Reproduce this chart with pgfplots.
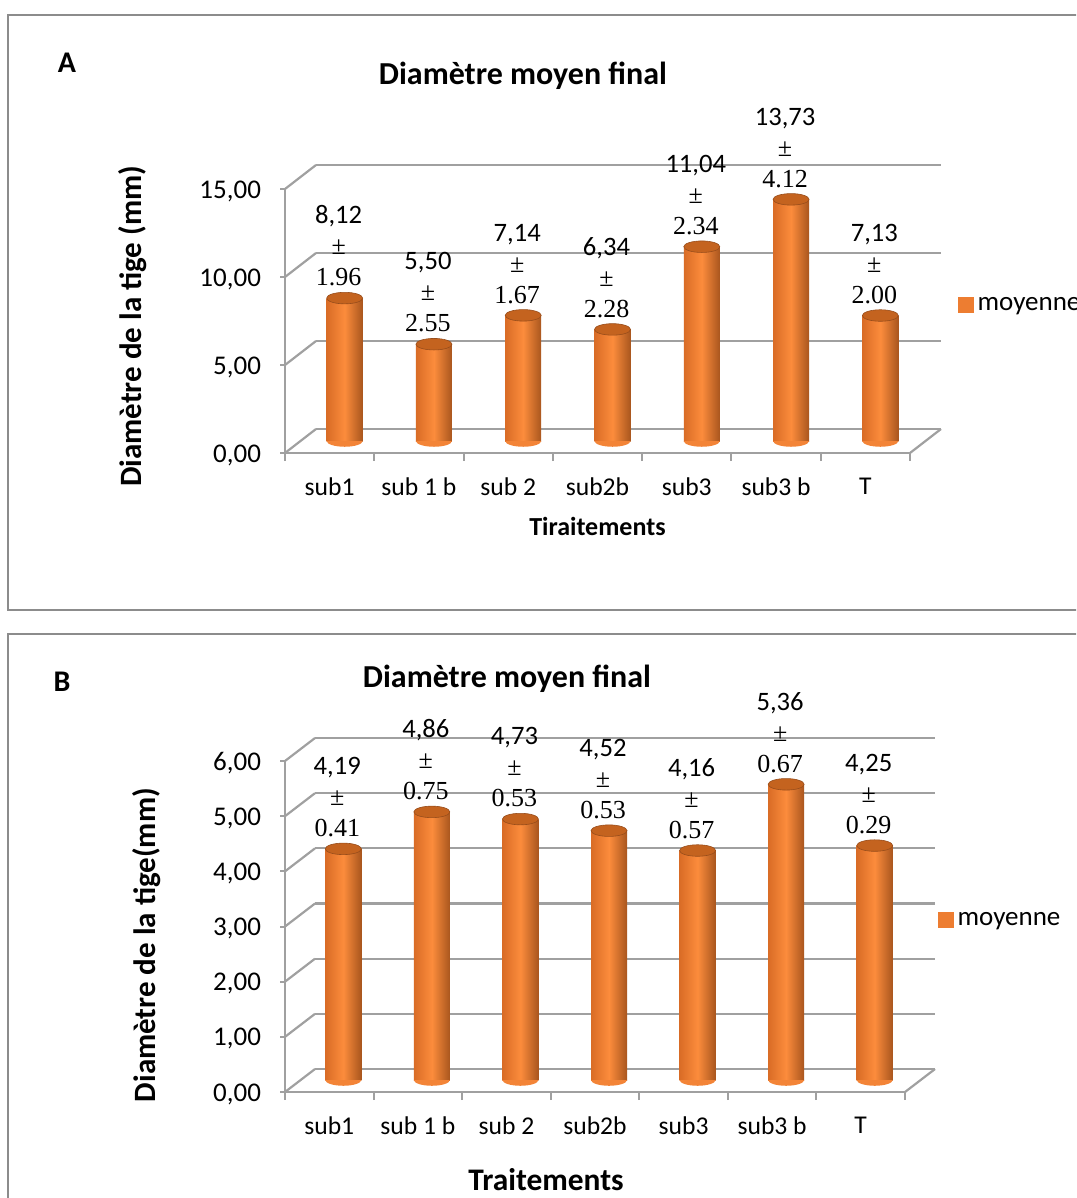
\documentclass[border=0pt]{standalone}
\usepackage{fontspec}
\setmainfont{Carlito}
\newfontfamily\tms{Liberation Serif}
\usepackage{pgfplots}
\pgfplotsset{compat=1.18}
\usepackage{pgfplotstable}
\pgfkeys{/pgf/number format/assume math mode=true}
\definecolor{gridc}{HTML}{A0A0A0}
\definecolor{boxc}{HTML}{8C8C8C}
\definecolor{barL}{HTML}{D96C26}
\definecolor{barM}{HTML}{FC8C3C}
\definecolor{barR}{HTML}{A9561E}
\definecolor{capc}{HTML}{C4631F}
\definecolor{legc}{HTML}{ED7D31}

\pgfdeclareplotmark{halfell}{%
  \pgfpathmoveto{\pgfqpoint{-\pgfplotmarksize}{0pt}}%
  \pgfpatharc{180}{360}{\pgfplotmarksize and 0.32\pgfplotmarksize}%
  \pgfpathclose
  \pgfusepathqfill}

\pgfplotstableread{
x y sd z
0 8.12 1.96 0
1 5.50 2.55 0
2 7.14 1.67 0
3 6.34 2.28 0
4 11.04 2.34 0
5 13.73 4.12 0
6 7.13 2.00 0
}\dataA
\pgfplotstableread{
x y sd z
0 4.19 0.41 0
1 4.86 0.75 0
2 4.73 0.53 0
3 4.52 0.53 0
4 4.16 0.57 0
5 5.36 0.67 0
6 4.25 0.29 0
}\dataB

\newcommand\fsz[2]{\fontsize{#1}{#2}\selectfont}

\pgfplotsset{
  common/.style={scale only axis, xmin=-0.5, xmax=6.5, ymin=0, anchor=south west, clip=false},
  backwall/.style={common, axis line style={draw=none}, tick style={draw=none},
     xtick=\empty, yticklabels={}, ymajorgrids, grid style={gridc, line width=1.1pt}},
  front/.style={common, axis x line*=bottom, axis y line*=left,
     axis line style={gridc, line width=1pt},
     xtick={0,...,6}, xticklabels={sub1,sub 1 b,sub 2,sub2b,sub3,sub3 b,T},
     minor xtick={-0.5,0.5,...,6.5},
     tick align=outside, major tick length=2.5pt, minor tick length=4pt,
     tick style={gridc, line width=1pt}, major x tick style={draw=none},
     xticklabel style={font=\fsz{12.8pt}{15pt}, yshift=-6.5pt},
     yticklabel style={font=\fsz{13.5pt}{16pt}, xshift=-6pt, yshift=-1pt},
     scaled y ticks=false,
     yticklabel style={/pgf/number format/fixed, /pgf/number format/fixed zerofill,
        /pgf/number format/precision=2, /pgf/number format/use comma},
  },
  bars/.style={common, hide axis},
  barplot/.style={ybar, bar width=18pt, bar shift=0pt, draw=none, forget plot,
     left color=barL, right color=barR, middle color=barM},
  bottomplot/.style={only marks, mark=halfell, mark size=9pt,
     mark options={fill=barM!75!barL, draw=none}, forget plot},
  capplot/.style={only marks, mark=*, mark size=9pt,
     mark options={yscale=0.32, fill=capc, draw=barR!90!black, line width=0.3pt}, forget plot,
     visualization depends on={\thisrow{sd}\as\sdval},
     nodes near coords={{\fsz{13.3pt}{15.5pt}\pgfmathprintnumber[fixed,fixed zerofill,precision=2,use comma]{\pgfplotspointmeta}}\\{\tms\fsz{13pt}{15.5pt}±}\\{\tms\fsz{13pt}{15.5pt}\pgfmathprintnumber[fixed,fixed zerofill,precision=2]{\sdval}}},
     every node near coord/.append style={align=center, anchor=south, inner sep=0pt,
        yshift=5.8pt, xshift=-3pt, text=black, font=\fsz{13pt}{15.5pt}},
  },
  legimg/.style={legend image code/.code={\fill[legc] (0pt,-3.6pt) rectangle (7.2pt,3.6pt);}},
}

\begin{document}
\begin{tikzpicture}
\useasboundingbox (0pt,0pt) rectangle (538pt,-599pt);
\clip (0pt,0pt) rectangle (538pt,-599pt);
% ---------- Panel A ----------
\draw[boxc, line width=0.75pt] (4pt,-7.5pt) rectangle (560pt,-305pt);
\node[font=\bfseries\fsz{15pt}{18pt}] at (33.5pt,-31.5pt) {A};
\node[font=\bfseries\fsz{16pt}{19pt}] at (261.5pt,-38pt) {Diamètre moyen final};

\begin{axis}[backwall, width=312.5pt, height=132pt, at={(158pt,-214.5pt)},
  ymax=15, ytick={0,5,10,15}]
\addplot[draw=none, forget plot] table[x=x,y=z]{\dataA};
\end{axis}

\begin{axis}[front, width=312.5pt, height=132pt, at={(142.5pt,-226.5pt)},
  ymax=15, ytick={0,5,10,15},
  xlabel={Tiraitements},
  xlabel style={at={(axis description cs:0.5,-0.28)}, anchor=center, font=\bfseries\fsz{13pt}{15pt}},
  ylabel={Diamètre de la tige (mm)},
  ylabel style={at={(axis description cs:-0.2432,0.48)}, anchor=center, font=\bfseries\fsz{15.5pt}{18pt}}]
\addplot[draw=none, forget plot] table[x=x,y=z]{\dataA};
\pgfplotsinvokeforeach{0,5,10,15}{\draw[gridc, line width=1.1pt] (axis cs:-0.5,#1) -- ++(15.5pt,12pt);}
\draw[gridc, line width=1.1pt] (axis cs:6.5,0) -- ++(15.5pt,12pt);
\end{axis}

\begin{axis}[bars, width=312.5pt, height=132pt, at={(150pt,-220.5pt)}, ymax=15,
  legend style={at={(axis description cs:1.0528,0.515)}, anchor=west, draw=none, fill=none,
    inner sep=0pt, font=\fsz{13.5pt}{16pt}, legend cell align=left}]
\addplot[bottomplot] table[x=x,y=z]{\dataA};
\pgfplotsinvokeforeach{0,...,6}{\addplot[barplot, restrict x to domain=#1:#1] table[x=x,y=y]{\dataA};}
\addplot[capplot] table[x=x,y=y]{\dataA};
\addlegendimage{legimg}
\addlegendentry{moyenne}
\end{axis}

% ---------- Panel B ----------
\draw[boxc, line width=0.75pt] (4pt,-317pt) rectangle (560pt,-620pt);
\node[font=\bfseries\fsz{15pt}{18pt}] at (31pt,-341pt) {B};
\node[font=\bfseries\fsz{16pt}{19pt}] at (253.5pt,-339.5pt) {Diamètre moyen final};

\begin{axis}[backwall, width=310pt, height=165.5pt, at={(157.5pt,-534.5pt)},
  ymax=6, ytick={0,...,6}]
\addplot[draw=none, forget plot] table[x=x,y=z]{\dataB};
\end{axis}

\begin{axis}[front, width=310pt, height=165.5pt, at={(142.5pt,-546pt)},
  ymax=6, ytick={0,...,6},
  xlabel={Traitements},
  xlabel style={at={(axis description cs:0.421,-0.266)}, anchor=center, font=\bfseries\fsz{15.7pt}{18pt}},
  ylabel={Diamètre de la tige(mm)},
  ylabel style={at={(axis description cs:-0.2226,0.444)}, anchor=center, font=\bfseries\fsz{15.5pt}{18pt}}]
\addplot[draw=none, forget plot] table[x=x,y=z]{\dataB};
\pgfplotsinvokeforeach{0,...,6}{\draw[gridc, line width=1.1pt] (axis cs:-0.5,#1) -- ++(15pt,11.5pt);}
\draw[gridc, line width=1.1pt] (axis cs:6.5,0) -- ++(15pt,11.5pt);
\end{axis}

\begin{axis}[bars, width=310pt, height=165.5pt, at={(149.5pt,-540pt)}, ymax=6,
  legend style={at={(axis description cs:1.0306,0.4834)}, anchor=west, draw=none, fill=none,
    inner sep=0pt, font=\fsz{13.5pt}{16pt}, legend cell align=left}]
\addplot[bottomplot] table[x=x,y=z]{\dataB};
\pgfplotsinvokeforeach{0,...,6}{\addplot[barplot, restrict x to domain=#1:#1] table[x=x,y=y]{\dataB};}
\addplot[capplot] table[x=x,y=y]{\dataB};
\addlegendimage{legimg}
\addlegendentry{moyenne}
\end{axis}
\end{tikzpicture}
\end{document}
